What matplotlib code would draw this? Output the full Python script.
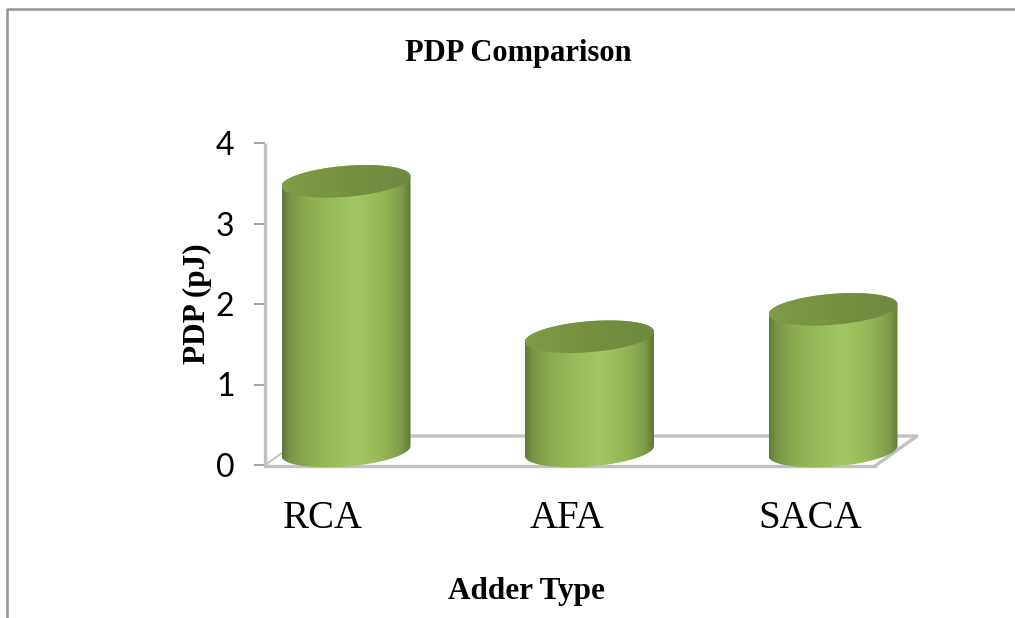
import numpy as np
import matplotlib
matplotlib.use("Agg")
import matplotlib.pyplot as plt
from matplotlib.colors import LinearSegmentedColormap
from matplotlib.patches import Polygon
from matplotlib.lines import Line2D

categories = ["RCA", "AFA", "SACA"]
pdp_values = [3.35, 1.42, 1.76]
y_ticks = [0, 1, 2, 3, 4]

W, H = 1015, 618
fig = plt.figure(figsize=(W / 100, H / 100), dpi=100, facecolor="white")

# axes frame in pixels
L, R, T, B = 265, 875, 143, 465
ax = fig.add_axes([L / W, 1 - B / H, (R - L) / W, (B - T) / H])
cat_x0, cat_step = 323.0, 243.5
ax.set_xlim((L - cat_x0) / cat_step, (R - cat_x0) / cat_step)
ax.set_ylim(0, 4)
xlim = ax.get_xlim()
ppx = cat_step
ppy = (B - T) / 4.0

for s in ["top", "right", "bottom", "left"]:
    ax.spines[s].set_visible(False)
ax.patch.set_alpha(0)
ax.set_yticks(y_ticks)
ax.set_xticks(range(len(categories)))
ax.set_xticklabels(categories, family="Liberation Serif", fontsize=28, color="black")
ax.tick_params(axis="x", length=0, pad=25)
ax.tick_params(axis="y", length=8, width=1.1, color="#8c8c8c", pad=14,
               labelsize=23, labelcolor="black")
for t in ax.get_yticklabels():
    t.set_family("Lato")

# helpers: pixel offsets to data
def dx(px): return px / ppx
def dy(px): return px / ppy

GRAY = "#c2c2c2"
LW = 2.4
x_left, x_right = xlim
ax.plot([x_left, x_left], [0, 4], color=GRAY, lw=LW, clip_on=False, zorder=2, solid_capstyle="butt")
ax.plot([x_left, x_right], [dy(-1), dy(-1)], color=GRAY, lw=LW, clip_on=False, zorder=2)
ax.plot([x_right, x_right + dx(42), x_left + dx(20)],
        [dy(-1), dy(29), dy(29)], color=GRAY, lw=LW, clip_on=False, zorder=2)
ax.plot([x_left, x_left + dx(20)], [dy(0), dy(14)], color=GRAY, lw=1.4, clip_on=False, zorder=2)

cmap = LinearSegmentedColormap.from_list(
    "cyl", [(0, "#5f7a38"), (0.06, "#7a9546"), (0.2, "#8dac50"), (0.35, "#97b959"), (0.58, "#a3c764"),
            (0.8, "#93b455"), (0.93, "#7e9a48"), (1, "#5f7a38")])
grad = np.linspace(0, 1, 256).reshape(1, -1)
top_cmap = LinearSegmentedColormap.from_list("top", ["#7f9c47", "#76903f", "#6f8a40"])
base_offset = (23.0, 14.0)   # depth shift, pixels
half_w = 64.5
ell_h = 31.0
tilt_px = 5.0

def outline(theta, cx_px, cy_px):
    # tilted ellipse in pixel offsets (up is positive)
    ex = half_w * np.cos(theta)
    ey = ell_h / 2 * np.sin(theta) + tilt_px * np.cos(theta)
    return cx_px + ex, cy_px + ey

for i, (cat, val) in enumerate(zip(categories, pdp_values)):
    cx = i + dx(base_offset[0])
    cy0 = dy(base_offset[1])
    cy1 = val + cy0
    th_bot = np.linspace(np.pi, 2 * np.pi, 60)
    th_top = np.linspace(0, np.pi, 60)
    xb, yb = outline(th_bot, 0, 0)
    xt, yt = outline(th_top, 0, 0)
    xs = np.r_[cx + dx(xb), cx + dx(xt)]
    ys = np.r_[cy0 + dy(yb), cy1 + dy(yt)]
    body = Polygon(np.c_[xs, ys], closed=True, fc="none", ec="none", transform=ax.transData)
    ax.add_patch(body)
    body.set_clip_on(False)
    im = ax.imshow(grad, cmap=cmap, extent=[cx - dx(half_w), cx + dx(half_w), cy0 - dy(25), cy1 + dy(25)],
                   aspect="auto", zorder=3, interpolation="bilinear")
    im.set_clip_box(fig.bbox)
    im.set_clip_path(body)
    th_all = np.linspace(0, 2 * np.pi, 120)
    xe, ye = outline(th_all, 0, 0)
    cap = Polygon(np.c_[cx + dx(xe), cy1 + dy(ye)], closed=True, fc="none", ec="none")
    ax.add_patch(cap)
    cap.set_clip_on(False)
    im2 = ax.imshow(grad, cmap=top_cmap, extent=[cx - dx(half_w), cx + dx(half_w), cy1 - dy(25), cy1 + dy(25)],
                    aspect="auto", zorder=4, interpolation="bilinear")
    im2.set_clip_box(fig.bbox)
    im2.set_clip_path(cap)

ax.set_xlim(xlim)
ax.set_ylim(0, 4)

fig.text(518 / W, 1 - 54 / H, "PDP Comparison", family="Liberation Serif", weight="bold",
         fontsize=22, ha="center", va="center")
fig.text(197 / W, 1 - 304 / H, "PDP (pJ)", family="Liberation Serif", weight="bold",
         fontsize=22.5, rotation=90, ha="center", va="center")
fig.text(526 / W, 1 - 592 / H, "Adder Type", family="Liberation Serif", weight="bold",
         fontsize=22.5, ha="center", va="center")

# chart-area border: top and left edges only, running off the picture
fig.add_artist(Line2D([6.5 / W, 6.5 / W, 1.0],
                      [0, 1 - 9 / H, 1 - 9 / H], color="#959595", lw=1.8))

fig.savefig("out.png", dpi=100, facecolor="white")
